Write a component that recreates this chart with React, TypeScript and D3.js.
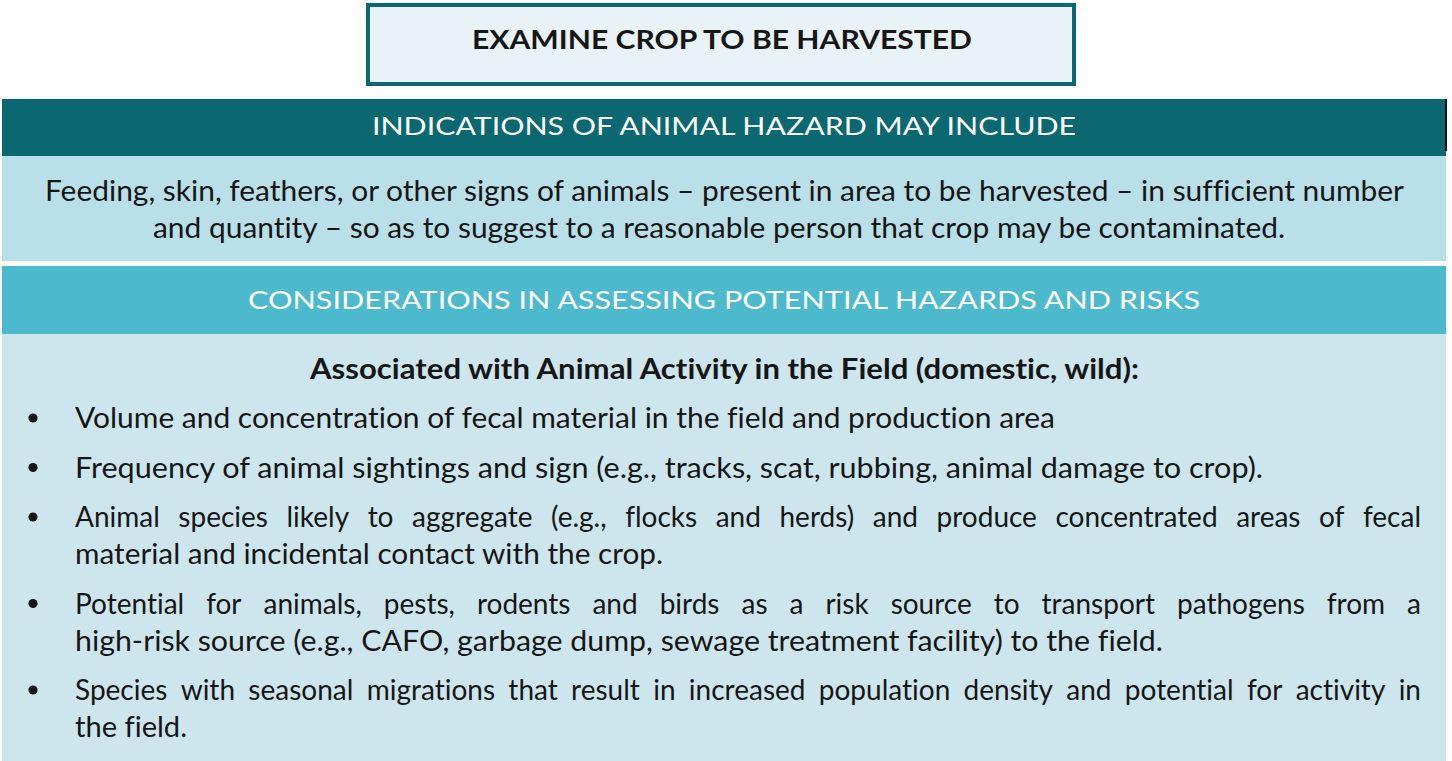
import React, { useEffect, useRef } from "react";
import * as d3 from "d3";

const TITLE = "EXAMINE CROP TO BE HARVESTED";
const INDICATIONS_HEADER = "INDICATIONS OF ANIMAL HAZARD MAY INCLUDE";
const INDICATIONS_LINES = [
  "Feeding, skin, feathers, or other signs of animals – present in area to be harvested – in sufficient number",
  "and quantity – so as to suggest to a reasonable person that crop may be contaminated.",
];
const CONSIDERATIONS_HEADER = "CONSIDERATIONS IN ASSESSING POTENTIAL HAZARDS AND RISKS";
const SUBHEADING = "Associated with Animal Activity in the Field (domestic, wild):";
const BULLET_LINES: string[][] = [
  ["Volume and concentration of fecal material in the field and production area"],
  ["Frequency of animal sightings and sign (e.g., tracks, scat, rubbing, animal damage to crop)."],
  [
    "Animal species likely to aggregate (e.g., flocks and herds) and produce concentrated areas of fecal",
    "material and incidental contact with the crop.",
  ],
  [
    "Potential for animals, pests, rodents and birds as a risk source to transport pathogens from a",
    "high-risk source (e.g., CAFO, garbage dump, sewage treatment facility) to the field.",
  ],
  [
    "Species with seasonal migrations that result in increased population density and potential for activity in",
    "the field.",
  ],
];

const W = 1452;
const H = 761;
const FONT = "Lato, 'Open Sans', sans-serif";
const DARK = "#0b6770";
const LIGHT = "#b9dfe8";
const MID = "#4db9cd";
const PALE = "#cde6ee";
const BOX_FILL = "#e9f3f7";
const INK = "#161616";
const BODY = 28;

export default function App() {
  const ref = useRef<SVGSVGElement>(null);

  useEffect(() => {
    const svg = d3.select(ref.current as SVGSVGElement);
    svg.selectAll("*").remove();

    svg.append("rect").attr("width", W).attr("height", H).attr("fill", "#ffffff");

    const panels = [
      { x: 2, y: 99, w: 1444, h: 57, fill: DARK },
      { x: 2, y: 156, w: 1444, h: 105, fill: LIGHT },
      { x: 2, y: 266, w: 1444, h: 68, fill: MID },
      { x: 2, y: 334, w: 1444, h: 427, fill: PALE },
    ];
    svg
      .selectAll("rect.panel")
      .data(panels)
      .join("rect")
      .attr("class", "panel")
      .attr("x", (d) => d.x)
      .attr("y", (d) => d.y)
      .attr("width", (d) => d.w)
      .attr("height", (d) => d.h)
      .attr("fill", (d) => d.fill);

    svg.append("rect").attr("x", 1445).attr("y", 99).attr("width", 2).attr("height", 52).attr("fill", "#111");

    svg
      .append("rect")
      .attr("x", 368)
      .attr("y", 5)
      .attr("width", 706)
      .attr("height", 79)
      .attr("fill", BOX_FILL)
      .attr("stroke", DARK)
      .attr("stroke-width", 4);

    const addText = (
      text: string,
      x: number,
      y: number,
      size: number,
      weight: number | string,
      color: string,
      anchor: string,
      width?: number
    ) => {
      const t = svg
        .append("text")
        .attr("x", x)
        .attr("y", y)
        .attr("font-family", FONT)
        .attr("font-size", size)
        .attr("font-weight", weight)
        .attr("fill", color)
        .attr("text-anchor", anchor)
        .style("font-variant-ligatures", "none")
        .style("font-kerning", "normal")
        .text(text);
      if (width) t.attr("textLength", width).attr("lengthAdjust", "spacingAndGlyphs");
      return t;
    };

    addText(TITLE, 722, 49, 27, 700, INK, "middle", 500);
    addText(INDICATIONS_HEADER, 724, 135, 25, 400, "#ffffff", "middle", 704);
    addText(INDICATIONS_LINES[0], 724.5, 201, BODY, 400, INK, "middle", 1359);
    addText(INDICATIONS_LINES[1], 719, 238, BODY, 400, INK, "middle", 1132);
    addText(CONSIDERATIONS_HEADER, 724, 309, 25, 400, "#ffffff", "middle", 952);
    addText(SUBHEADING, 724.5, 379, BODY, 700, INK, "middle", 829);

    const LEFT = 75;
    const RIGHT = 1421;
    const lastWidths: Record<string, number> = {
      "Volume and concentration of fecal material in the field and production area": 980,
      "Frequency of animal sightings and sign (e.g., tracks, scat, rubbing, animal damage to crop).": 1188,
      "material and incidental contact with the crop.": 588,
      "high-risk source (e.g., CAFO, garbage dump, sewage treatment facility) to the field.": 1088,
      "the field.": 112,
    };
    let y = 428;
    BULLET_LINES.forEach((lines, bi) => {
      if (bi > 0) y += 49.5;
      svg.append("circle").attr("cx", 33).attr("cy", y - 10).attr("r", 4.6).attr("fill", INK);
      lines.forEach((line, li) => {
        if (li > 0) y += 37;
        const isLast = li === lines.length - 1;
        if (isLast) {
          addText(line, LEFT, y, BODY, 400, INK, "start", lastWidths[line]);
        } else {
          const words = line.split(" ");
          const nodes = words.map((w) => addText(w, 0, y, BODY, 400, INK, "start"));
          const widths = nodes.map((n) => (n.node() as SVGTextElement).getComputedTextLength());
          const total = d3.sum(widths);
          const gap = (RIGHT - LEFT - total) / (words.length - 1);
          let x = LEFT;
          nodes.forEach((n, i) => {
            n.attr("x", x);
            x += widths[i] + gap;
          });
        }
      });
    });
  }, []);

  return (
    <svg
      ref={ref}
      width={W}
      height={H}
      style={{ display: "block", position: "absolute", left: 0, top: 0 }}
    />
  );
}
